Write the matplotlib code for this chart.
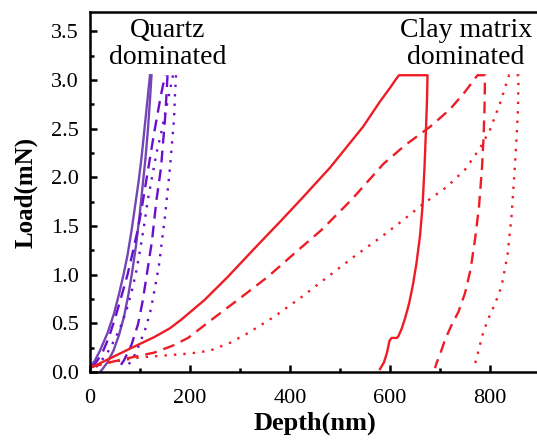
import matplotlib
matplotlib.use("Agg")
import matplotlib.pyplot as plt
from matplotlib.ticker import MultipleLocator

plt.rcParams['font.family'] = ['Liberation Serif', 'DejaVu Serif']

# quartz dominated indents (depth nm, load mN)
q1_load_x = [0, 10, 20, 35, 48, 58, 67, 75, 83, 90, 97, 103, 108, 113, 117, 120]
q1_load_y = [0.05, 0.12, 0.22, 0.40, 0.60, 0.80, 1.00, 1.20, 1.45, 1.70, 1.95, 2.20, 2.45, 2.70, 2.90, 3.05]
q1_unload_x = [123, 120, 116, 111, 105, 99, 92, 85, 77, 68, 58, 47, 35, 25, 20]
q1_unload_y = [3.05, 2.80, 2.50, 2.20, 1.90, 1.60, 1.30, 1.05, 0.80, 0.57, 0.38, 0.22, 0.10, 0.03, 0.0]

q2_load_x = [5, 15, 25, 38, 50, 63, 75, 85, 95, 104, 112, 120, 128, 135, 142, 147, 150]
q2_load_y = [0.05, 0.12, 0.20, 0.36, 0.55, 0.78, 1.00, 1.22, 1.45, 1.70, 1.95, 2.20, 2.45, 2.65, 2.85, 2.97, 3.05]
q2_unload_x = [155, 153, 150, 146, 142, 138, 133, 124, 113, 105, 96, 83, 68, 56]
q2_unload_y = [3.05, 2.85, 2.60, 2.35, 2.10, 1.95, 1.77, 1.35, 0.98, 0.72, 0.49, 0.28, 0.12, 0.03]

q3_load_x = [12, 22, 35, 48, 60, 72, 82, 92, 100, 108, 115, 124, 133, 142, 150, 158, 166]
q3_load_y = [0.05, 0.11, 0.20, 0.32, 0.45, 0.62, 0.80, 1.02, 1.25, 1.50, 1.75, 2.00, 2.25, 2.45, 2.65, 2.85, 3.05]
q3_unload_x = [172, 170, 168, 164, 160, 155, 150, 144, 138, 130, 122, 112, 100, 90, 80, 72]
q3_unload_y = [3.05, 2.85, 2.60, 2.35, 2.10, 1.85, 1.60, 1.35, 1.10, 0.87, 0.65, 0.46, 0.30, 0.18, 0.10, 0.02]

# clay matrix dominated indents
c1_x = [0, 40, 80, 129, 160, 183, 229, 276, 329, 383, 423, 480, 546, 580, 600, 612, 618,
        675, 674, 672, 669, 665, 660, 653, 646, 638, 630, 623, 617, 614, 603, 599, 594, 588, 580]
c1_y = [0.04, 0.14, 0.24, 0.36, 0.45, 0.54, 0.74, 0.98, 1.27, 1.56, 1.78, 2.10, 2.52, 2.78, 2.92, 3.01, 3.05,
        3.05, 2.80, 2.50, 2.10, 1.70, 1.40, 1.12, 0.90, 0.70, 0.55, 0.44, 0.37, 0.35, 0.35, 0.32, 0.20, 0.10, 0.03]

c2_x = [0, 40, 83, 129, 165, 196, 249, 303, 356, 409, 463, 523, 587, 630, 680, 720, 750, 775,
        790, 789, 787, 784, 778, 770, 761, 750, 737, 722, 710, 700, 693, 690]
c2_y = [0.05, 0.10, 0.15, 0.20, 0.27, 0.35, 0.56, 0.77, 0.98, 1.22, 1.46, 1.77, 2.14, 2.33, 2.52, 2.70, 2.88, 3.05,
        3.05, 2.70, 2.40, 2.10, 1.70, 1.36, 1.05, 0.81, 0.62, 0.47, 0.33, 0.18, 0.09, 0.04]

c3_x = [0, 30, 63, 100, 150, 200, 240, 280, 316, 369, 423, 476, 529, 583, 626, 667, 713, 750, 780,
        800, 820, 838, 857, 856, 853, 849, 843, 835, 823, 810, 795, 785, 777, 771, 768]
c3_y = [0.05, 0.09, 0.12, 0.15, 0.17, 0.19, 0.22, 0.30, 0.40, 0.57, 0.77, 0.98, 1.19, 1.39, 1.56, 1.73, 1.90, 2.08, 2.30,
        2.49, 2.76, 3.05, 3.05, 2.70, 2.40, 2.05, 1.60, 1.20, 0.88, 0.70, 0.53, 0.38, 0.22, 0.10, 0.03]

purple = '#7445b5'
violet = '#6a10cc'
red = '#ee1c24'

fig = plt.figure(figsize=(5.37, 4.42), dpi=100)
ax = fig.add_axes([90/537, 70/442, 450/537, 360/442])

lw = 1.7
ax.plot(q1_load_x, q1_load_y, color=purple, lw=lw)
ax.plot(q1_unload_x, q1_unload_y, color=purple, lw=lw)
ax.plot(q2_load_x, q2_load_y, color=violet, lw=lw, dashes=(5, 3))
ax.plot(q2_unload_x, q2_unload_y, color=violet, lw=lw, dashes=(5, 3))
ax.plot(q3_load_x, q3_load_y, color=violet, lw=lw, dashes=(1, 3))
ax.plot(q3_unload_x, q3_unload_y, color=violet, lw=lw, dashes=(1, 3))

ax.plot(c1_x, c1_y, color=red, lw=lw)
ax.plot(c2_x, c2_y, color=red, lw=lw, dashes=(5, 3))
ax.plot(c3_x, c3_y, color=red, lw=lw, dashes=(1, 3))

ax.set_xlim(0, 900)
ax.set_ylim(0, 3.7)
ax.xaxis.set_major_locator(MultipleLocator(200))
ax.xaxis.set_minor_locator(MultipleLocator(100))
ax.yaxis.set_major_locator(MultipleLocator(0.5))
ax.yaxis.set_minor_locator(MultipleLocator(0.25))
ax.yaxis.set_major_formatter(plt.FuncFormatter(lambda v, p: f'{v:.1f}'))
ax.tick_params(which='both', direction='in', top=False, right=False, width=1.8)
ax.tick_params(which='major', length=5, labelsize=16)
ax.tick_params(axis='x', which='major', pad=12)
ax.tick_params(axis='y', which='major', pad=8)
ax.tick_params(which='minor', length=3)
for s in ax.spines.values():
    s.set_linewidth(1.8)

ax.set_xlabel('Depth(nm)', fontsize=19, fontweight='bold', labelpad=3)
ax.set_ylabel('Load(mN)', fontsize=18, fontweight='bold', labelpad=10)

ax.text(156, 3.37, 'Quartz\ndominated', fontsize=20, ha='center', va='center', linespacing=1.1)
ax.text(752, 3.37, 'Clay matrix\ndominated', fontsize=20, ha='center', va='center', linespacing=1.1)

fig.savefig('out.png', dpi=100)
